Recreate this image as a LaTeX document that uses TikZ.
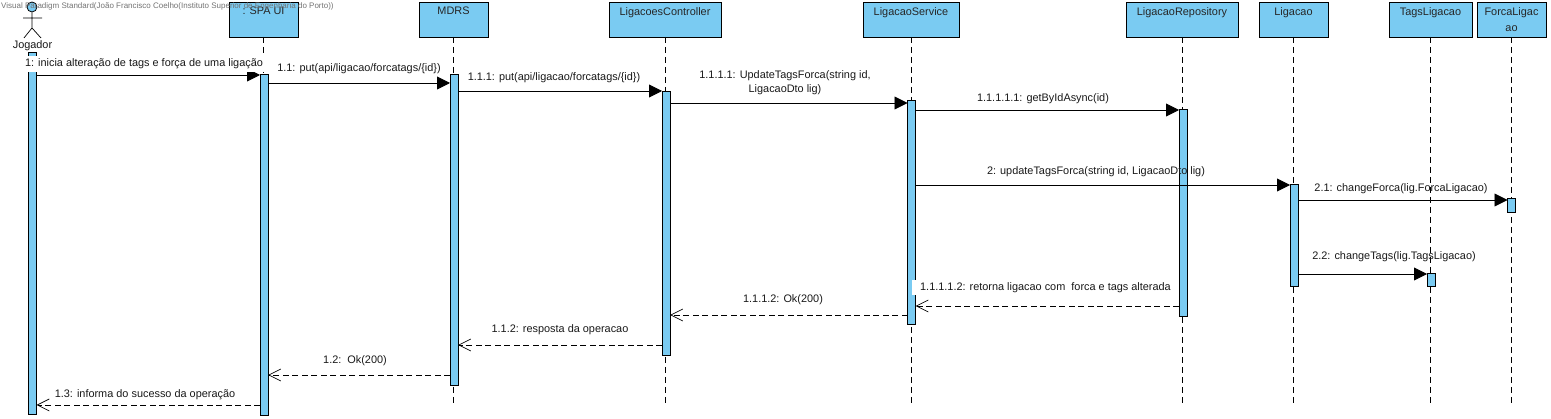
\documentclass[tikz,border=0pt]{standalone}
\usepackage{fontspec}
\setmainfont{Liberation Sans}
\usetikzlibrary{arrows.meta}
\definecolor{umlblue}{HTML}{7ACBF2}
\tikzset{
  lifebox/.style={draw=black,fill=umlblue,line width=0.9pt,minimum height=35pt,inner sep=0pt,outer sep=0pt},
  boxtext/.style={anchor=north,inner sep=0pt,align=center,font=\fontsize{10.9}{14}\selectfont,text=black!85,yshift=-5pt},
  bar/.style={draw=black,fill=umlblue,line width=0.9pt,minimum width=8pt,inner sep=0pt,outer sep=0pt},
  lifeline/.style={line width=0.8pt,dash pattern=on 6pt off 4pt},
  msg/.style={line width=0.9pt,-{Triangle[length=13pt,width=13pt,fill=black]}},
  reply/.style={line width=0.8pt,dash pattern=on 6pt off 3.5pt,-{Straight Barb[length=12pt,width=12pt,line width=0.7pt]}},
  msgtext/.style={inner sep=0pt,align=center,font=\fontsize{10.9}{14}\selectfont,text=black!90,yshift=-1.5pt},
  whitebg/.style={fill=white,inner xsep=1pt,inner ysep=3pt},
  watermark/.style={font=\fontsize{8}{9}\selectfont,text=black!55,inner sep=0pt,anchor=west}
}
\begin{document}
\begin{tikzpicture}[x=1pt,y=-1pt]
\useasboundingbox (0,0) rectangle (1551,419);
% lifeline heads
\node[lifebox,minimum width=69pt] (spa) at (263.5,19.5) {};
\node[boxtext] (spaT) at (spa.north) {: SPA UI};
\node[lifebox,minimum width=69pt] (mdrs) at (453.5,19.5) {};
\node[boxtext] (mdrsT) at (mdrs.north) {MDRS};
\node[lifebox,minimum width=112pt] (ctrl) at (665,19.5) {};
\node[boxtext] (ctrlT) at (ctrl.north) {LigacoesController};
\node[lifebox,minimum width=96pt] (svc) at (911,19.5) {};
\node[boxtext] (svcT) at (svc.north) {LigacaoService};
\node[lifebox,minimum width=112pt] (repo) at (1182,19.5) {};
\node[boxtext] (repoT) at (repo.north) {LigacaoRepository};
\node[lifebox,minimum width=69pt] (lig) at (1293.5,19.5) {};
\node[boxtext] (ligT) at (lig.north) {Ligacao};
\node[lifebox,minimum width=83pt] (tags) at (1430.5,19.5) {};
\node[boxtext] (tagsT) at (tags.north) {TagsLigacao};
\node[lifebox,minimum width=69pt] (forca) at (1511.5,19.5) {};
\node[boxtext] (forcaT) at (forca.north) {ForcaLigac\\[2pt]ao};
% lifelines
\foreach \n in {spa,mdrs,ctrl,svc,repo,lig,tags,forca}
  \draw[lifeline] (\n.south) -- (\n.south |- 0,403);
% actor
\node[circle,draw=black,fill=umlblue,line width=0.8pt,minimum size=10pt,inner sep=0pt] (head) at (32,7) {};
\coordinate (hip) at (32,28);
\coordinate (armL) at (23,18);
\coordinate (armR) at (42,18);
\coordinate (legL) at (24,38);
\coordinate (legR) at (41,38);
\draw[line width=0.7pt] (head.south) -- (hip) (armL) -- (armR) (legL) -- (hip) -- (legR);
\node[msgtext] (jog) at (32.5,44.5) {Jogador};
% activation bars
\node[bar,minimum height=362pt] (bJ) at (32.5,233) {};
\node[bar,minimum height=341pt] (bS) at (264,244.5) {};
\node[bar,minimum height=311pt] (bM) at (454,229.5) {};
\node[bar,minimum height=264pt] (bC) at (666,223) {};
\node[bar,minimum height=224pt] (bV) at (911.5,212) {};
\node[bar,minimum height=207pt] (bR) at (1183,212.5) {};
\node[bar,minimum height=102pt] (bL) at (1294,235) {};
\node[bar,minimum height=14pt] (bF) at (1511.5,205) {};
\node[bar,minimum height=13pt] (bT) at (1431,279.5) {};
% messages
\draw[msg] (bJ.east |- 0,75) -- (bS.west |- 0,75);
\draw[msg] (bS.east |- 0,83) -- (bM.west |- 0,83);
\draw[msg] (bM.east |- 0,91) -- (bC.west |- 0,91);
\draw[msg] (bC.east |- 0,103) -- (bV.west |- 0,103);
\draw[msg] (bV.east |- 0,110) -- (bR.west |- 0,110);
\draw[msg] (bV.east |- 0,185) -- (bL.west |- 0,185);
\draw[msg] (bL.east |- 0,200) -- (bF.west |- 0,200);
\draw[msg] (bL.east |- 0,274) -- (bT.west |- 0,274);
\draw[reply] (bR.west |- 0,306) -- (bV.east |- 0,306);
\draw[reply] (bV.west |- 0,315) -- (bC.east |- 0,315);
\draw[reply] (bC.west |- 0,345) -- (bM.east |- 0,345);
\draw[reply] (bM.west |- 0,375) -- (bS.east |- 0,375);
\draw[reply] (bS.west |- 0,405) -- (bJ.east |- 0,405);
% labels
\node[msgtext,whitebg] (t1) at (144,62.5) {1: inicia alteração de tags e força de uma ligação};
\node[msgtext] (t11) at (359,67.5) {1.1: put(api/ligacao/forcatags/\{id\})};
\node[msgtext] (t111) at (554,76) {1.1.1: put(api/ligacao/forcatags/\{id\})};
\node[msgtext] (t1111) at (785,81.5) {1.1.1.1: UpdateTagsForca(string id,\\LigacaoDto lig)};
\node[msgtext] (t11111) at (1043,97.5) {1.1.1.1.1: getByIdAsync(id)};
\node[msgtext] (t2) at (1096,170.5) {2: updateTagsForca(string id, LigacaoDto lig)};
\node[msgtext] (t21) at (1401,187.5) {2.1: changeForca(lig.ForcaLigacao)};
\node[msgtext] (t22) at (1394,255.5) {2.2: changeTags(lig.TagsLigacao)};
\node[msgtext,fill=white,minimum width=267pt,minimum height=15pt] (t11112) at (1045.5,286) {1.1.1.1.2: retorna ligacao com\ \ forca e tags alterada};
\node[msgtext] (t1112) at (783,298.5) {1.1.1.2: Ok(200)};
\node[msgtext] (t112) at (560,328.5) {1.1.2: resposta da operacao};
\node[msgtext] (t12) at (355,359.5) {1.2:\ \ Ok(200)};
\node[msgtext] (t13) at (145,393) {1.3: informa do sucesso da operação};
% watermark
\node[watermark] (wm) at (1,6.5) {Visual Paradigm Standard(João Francisco Coelho(Instituto Superior de Engenharia do Porto))};
\end{tikzpicture}
\end{document}
